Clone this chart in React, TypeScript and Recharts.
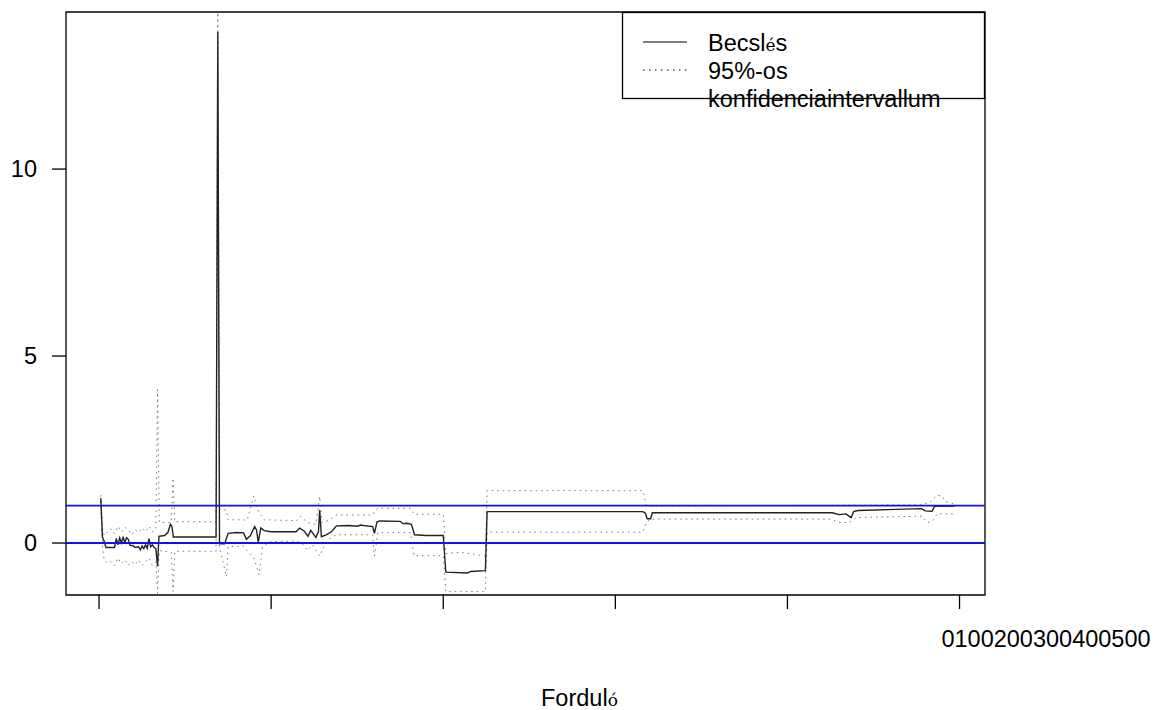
import { LineChart, Line, XAxis, YAxis, ReferenceLine, ReferenceArea, Legend } from 'recharts';

// axis ticks and reference levels
const xTicks = [0, 100, 200, 300, 400, 500];
const yTicks = [0, 5, 10];
const refLevels = [0, 1];

// point estimate (Becslés), by round
const estRounds = [
  1, 2, 3, 4, 9, 10, 11, 12, 13, 14, 15, 16, 17, 18, 20, 21, 23, 24, 25, 26, 27, 28, 29, 30, 31, 32, 33, 34,
  34.8, 38, 40, 41.5, 42.3, 43.2, 68, 69, 70, 73, 75, 80, 84, 85.6, 88, 90.4, 91.5, 92.5, 94, 96, 100, 114.5,
  116.5, 119, 121.4, 123, 126, 127.5, 128.2, 129.2, 132, 135, 138, 145, 150, 152, 155, 159, 160, 161.5, 163,
  175, 176.5, 179, 181.5, 183.3, 190, 200, 201.5, 214, 216, 224.5, 225.5, 316, 317.5, 318.5, 320.5, 321.5,
  426, 430, 434, 437, 438.5, 441, 463, 478, 480, 484, 485.5, 495, 497,
];
const estValues = [
  1.2, 0.15, 0.05, -0.12, -0.12, 0.12, -0.05, 0.14, 0.0, 0.15, 0.02, 0.14, 0.1, -0.06, -0.08, -0.12, -0.1, -0.18,
  -0.08, -0.15, -0.05, -0.14, 0.12, -0.1, -0.05, -0.12, -0.15, -0.62,
  0.18, 0.2, 0.28, 0.5, 0.45, 0.16, 0.16, 13.67, -0.02, -0.02, 0.26, 0.28, 0.27, 0.1, 0.2, 0.44, 0.35, 0.02, 0.4,
  0.33, 0.3, 0.3,
  0.4, 0.33, 0.18, 0.34, 0.15, 0.3, 0.88, 0.17, 0.22, 0.3, 0.46, 0.47, 0.45, 0.48, 0.46, 0.44, 0.26, 0.56, 0.59,
  0.58, 0.52, 0.53, 0.5, 0.22, 0.2, 0.2, -0.78, -0.8, -0.76, -0.74, 0.84, 0.84, 0.8, 0.65, 0.65, 0.81,
  0.81, 0.76, 0.78, 0.68, 0.84, 0.87, 0.9, 0.92, 0.86, 0.85, 0.98, 0.99, 0.99,
];

// upper 95% bound
const upperRounds = [
  1, 2, 3, 5, 7, 9, 11, 13, 15, 17, 19, 21, 23, 25, 27, 29, 31, 33, 34, 35, 42, 43, 44, 68, 69, 70, 74, 75, 84,
  86, 90, 92, 94, 96, 115, 117, 121, 126, 128.2, 129.5, 133, 138, 159, 160, 162, 181, 183, 200, 201.5, 210, 218,
  224.5, 225.5, 316, 318, 320, 478, 483, 487, 490, 492, 497,
];
const upperValues = [
  1.28, 0.4, 0.2, 0.3, 0.38, 0.25, 0.45, 0.3, 0.42, 0.35, 0.22, 0.35, 0.28, 0.4, 0.3, 0.45, 0.3, 0.35, 4.1, 0.55,
  0.55, 1.74, 0.57, 0.57, 15, 0.9, 0.88, 0.62, 0.62,
  0.6, 1.26, 0.9, 0.75, 0.62, 0.6, 0.72, 0.55, 0.5, 1.24, 0.55, 0.6, 0.75, 0.75, 0.85, 0.93, 0.93, 0.77, 0.77,
  -0.28, -0.25, -0.3,
  -0.35, 1.4, 1.4, 1.0, 0.99, 1.02, 1.1, 1.28, 1.25, 1.1, 1.05,
];

// lower 95% bound
const lowerRounds = [
  1, 2, 3, 5, 7, 9, 11, 13, 15, 17, 19, 21, 23, 25, 27, 29, 31, 33, 34, 35, 42, 43, 44, 68, 69, 70, 72, 74, 75,
  84, 86, 90, 93, 95, 100, 115, 119, 121, 124, 126, 128.2, 130, 133, 138, 159, 160, 162, 181, 183, 200, 201.5,
  224.5, 225.5, 316, 318, 320, 425, 430, 436, 440, 478, 481, 484, 487, 497,
];
const lowerValues = [
  1.1, -0.1, -0.45, -0.55, -0.5, -0.6, -0.4, -0.55, -0.45, -0.6, -0.5, -0.58, -0.45, -0.6, -0.5, -0.4, -0.6, -0.5,
  -1.35, -0.2, -0.25, -1.3, -0.22, -0.22, 12.8, -0.15, -0.5, -0.9, -0.1,
  -0.08, -0.2, -0.4, -0.85, -0.1, 0.04, 0.05, -0.05, -0.2, -0.05, -0.2, -0.35, -0.15, 0.1, 0.22, 0.22, -0.35,
  0.28, 0.28, -0.34, -0.34, -1.3,
  -1.3, 0.29, 0.29, 0.55, 0.64, 0.64, 0.55, 0.55, 0.68, 0.72, 0.55, 0.57, 0.78, 0.78,
];

const toPoints = (rounds: number[], values: number[]) => rounds.map((r, i) => ({ r, v: values[i] }));
const estimate = toPoints(estRounds, estValues);
const upper = toPoints(upperRounds, upperValues);
const lower = toPoints(lowerRounds, lowerValues);

const xDomain: [number, number] = [-19.2, 514.8];
const yDomain: [number, number] = [-1.39, 14.2];

const FONT = '"Liberation Sans", Arial, Helvetica, sans-serif';
const FS = 23.5;

function LegendBox() {
  return (
    <svg width={364} height={110} style={{ overflow: 'visible', display: 'block', fontFamily: FONT }}>
      <rect x={0.5} y={0.5} width={362} height={86} fill="#fff" stroke="#000" strokeWidth={1.3} />
      <line x1={21} x2={65} y1={30} y2={30} stroke="#000" strokeWidth={1.2} />
      <line x1={21} x2={65} y1={58} y2={58} stroke="#000" strokeWidth={1} strokeDasharray="1.5 4.5" />
      <text x={86} y={39} fontSize={FS} fill="#000">
        Becsl<tspan fontSize={17} fontFamily="DejaVu Serif">é</tspan>s
      </text>
      <text x={86} y={67} fontSize={FS} fill="#000">95%-os</text>
      <text x={86} y={95} fontSize={FS} fill="#000">konfidenciaintervallum</text>
    </svg>
  );
}

// x tick labels are all drawn together at the right, so the per-tick label is empty
const emptyTick = () => <g />;

const renderXTexts = () => (
  <g style={{ fontFamily: FONT }}>
    <text x={1046} y={647} fontSize={FS} textAnchor="middle" fill="#000">
      {xTicks.join('')}
    </text>
    <text x={541} y={706} fontSize={FS} fill="#000">
      Fordul<tspan fontSize={17} fontFamily="DejaVu Serif">ó</tspan>
    </text>
  </g>
);

export default function App() {
  return (
    <div style={{ position: 'absolute', left: 0, top: 0, width: 1168, height: 710, background: '#fff' }}>
      <LineChart
        width={1168}
        height={710}
        margin={{ top: 12, right: 183, bottom: 0, left: 0 }}
        style={{ fontFamily: FONT }}
      >
        <XAxis
          type="number"
          dataKey="r"
          domain={xDomain}
          ticks={xTicks}
          allowDataOverflow
          axisLine={false}
          tick={emptyTick}
          tickSize={14}
          tickLine={{ stroke: '#000', strokeWidth: 1.3 }}
          height={115}
          label={renderXTexts}
        />
        <YAxis
          type="number"
          domain={yDomain}
          ticks={yTicks}
          allowDataOverflow
          axisLine={false}
          width={66}
          tickSize={14}
          tickMargin={15}
          tickLine={{ stroke: '#000', strokeWidth: 1.3 }}
          tick={{ fill: '#000', fontSize: FS, fontFamily: FONT }}
        />
        <ReferenceArea
          x1={xDomain[0]}
          x2={xDomain[1]}
          y1={yDomain[0]}
          y2={yDomain[1]}
          fill="none"
          fillOpacity={0}
          stroke="#000"
          strokeWidth={1.3}
          ifOverflow="visible"
        />
        <Line
          data={upper}
          dataKey="v"
          type="linear"
          stroke="#777"
          strokeWidth={1}
          strokeDasharray="1.5 4"
          dot={false}
          isAnimationActive={false}
        />
        <Line
          data={lower}
          dataKey="v"
          type="linear"
          stroke="#777"
          strokeWidth={1}
          strokeDasharray="1.5 4"
          dot={false}
          isAnimationActive={false}
        />
        <Line
          data={estimate}
          dataKey="v"
          type="linear"
          stroke="#222"
          strokeWidth={1.4}
          dot={false}
          isAnimationActive={false}
        />
        {refLevels.map((lv) => (
          <ReferenceLine key={lv} y={lv} stroke="#1010e8" strokeWidth={1.8} />
        ))}
        <Legend
          layout="vertical"
          align="center"
          verticalAlign="middle"
          wrapperStyle={{ position: 'absolute', left: 622, top: 12, width: 364, height: 86 }}
          content={() => <LegendBox />}
        />
      </LineChart>
    </div>
  );
}
